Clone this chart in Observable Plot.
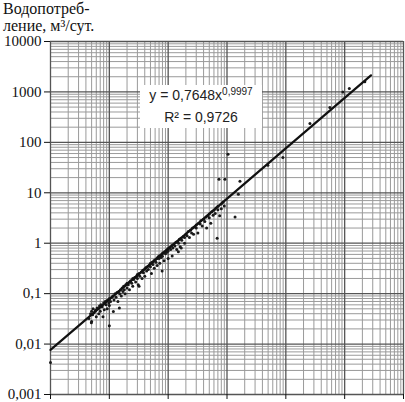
<!DOCTYPE html>
<html>
<head>
<meta charset="utf-8">
<script src="https://cdn.jsdelivr.net/npm/d3@7"></script>
<script src="https://cdn.jsdelivr.net/npm/@observablehq/plot@0.6"></script>
<style>
  body { margin: 0; background: white; }
  #wrap { position: relative; width: 405px; height: 402px; overflow: hidden; }
  #title { position: absolute; left: 3px; top: 0; font-family: "Liberation Serif", serif; font-size: 16px; line-height: 17px; color: #111; }
  #eq { position: absolute; left: 140px; top: 85px; width: 122px; height: 43px; background: white; text-align: center;
        font-family: "Liberation Sans", sans-serif; font-size: 14px; line-height: 20px; color: #222; }
  #eq .sup { position: relative; top: -5px; font-size: 10px; }
</style>
</head>
<body>
<div id="wrap">
  <div id="chart"></div>
  <div id="title">Водопотреб-<br>ление, м³/сут.</div>
  <div id="eq">y = 0,7648x<span class="sup">0,9997</span><br>R² = 0,9726</div>
</div>
<script>
const xValues = [0.045,0.048,0.05,0.05,0.0495,0.052,0.053,0.055,0.058,0.06,
  0.062,0.065,0.066,0.068,0.07,0.072,0.075,0.078,0.08,0.082,
  0.085,0.088,0.09,0.092,0.095,0.098,0.1,0.1,0.1,0.105,
  0.11,0.148,0.115,0.117,0.12,0.125,0.13,0.135,0.14,0.145,
  0.15,0.155,0.16,0.165,0.17,0.175,0.18,0.185,0.19,0.2,
  0.2,0.21,0.22,0.22,0.23,0.24,0.25,0.25,0.26,0.27,
  0.28,0.29,0.3,0.3,0.31,0.32,0.32,0.33,0.35,0.36,
  0.37,0.38,0.4,0.4,0.42,0.43,0.45,0.46,0.48,0.5,
  0.5,0.52,0.53,0.55,0.57,0.58,0.6,0.62,0.64,0.65,
  0.67,0.7,0.7,0.72,0.74,0.76,0.78,0.79,0.8,0.82,
  0.85,0.87,0.9,0.92,0.95,0.98,1.0,1.0,1.05,1.1,
  1.15,1.17,1.2,1.25,1.3,1.35,1.4,1.45,1.49,1.5,
  1.55,1.6,1.65,1.67,1.7,1.8,1.9,1.9,2.0,2.1,
  2.2,2.3,2.4,2.5,2.6,2.7,2.8,3.0,3.0,3.2,
  3.3,3.5,3.6,3.8,4.0,4.2,4.4,4.5,4.7,5.0,
  5.0,5.3,5.5,5.8,6.0,6.3,6.5,6.8,7.0,7.0,
  7.3,7.5,8.0,8.0,8.5,9.0,9.2,10.4,13.7,15.6,
  16.6,49.5,89,257,560,930,1200,2200,0.01];
const yValues = [0.032,0.04,0.028,0.045,0.0265,0.038,0.05,0.042,0.047,0.035,
  0.052,0.05,0.04,0.057,0.045,0.06,0.055,0.035,0.065,0.048,
  0.07,0.06,0.072,0.05,0.075,0.065,0.08,0.058,0.023,0.07,
  0.085,0.052,0.09,0.044,0.075,0.1,0.085,0.105,0.07,0.11,
  0.1,0.12,0.09,0.13,0.11,0.14,0.12,0.1,0.15,0.13,
  0.16,0.15,0.17,0.12,0.18,0.16,0.2,0.14,0.19,0.21,
  0.17,0.22,0.2,0.24,0.15,0.25,0.14,0.22,0.27,0.2,
  0.29,0.26,0.31,0.22,0.33,0.28,0.35,0.3,0.37,0.34,
  0.4,0.25,0.42,0.38,0.45,0.32,0.47,0.42,0.5,0.36,
  0.53,0.5,0.56,0.4,0.58,0.52,0.62,0.28,0.55,0.65,
  0.45,0.68,0.62,0.72,0.66,0.78,0.7,0.5,0.82,0.75,
  0.9,0.56,0.8,0.97,0.88,1.05,0.75,1.1,0.68,1.0,
  1.2,0.85,1.25,0.8,1.15,1.35,1.3,1.0,1.5,1.4,
  1.7,1.3,1.8,1.6,2.0,1.5,2.1,2.0,2.3,1.6,
  2.5,2.4,2.8,2.2,3.0,2.7,3.3,2.0,3.5,3.2,
  3.8,2.5,4.2,3.6,4.5,3.9,5.0,1.25,4.6,5.4,
  18.6,3.5,6.0,4.8,6.5,5.5,18.5,58,3.3,9.4,
  17,35,50,237,490,1000,1170,1590,0.0043];

const fitA = 0.7648, fitB = 0.9997;
const fitRange = [0.01, 2800];

const yTicks = [0.001,0.01,0.1,1,10,100,1000,10000];
const yTickLabels = ["0,001","0,01","0,1","1","10","100","1000","10000"];
const xTicks = [0.01,0.1,1,10,100,1000,10000];

const points = xValues.map((x, i) => ({x, y: yValues[i]}));
const fitLine = fitRange.map(x => ({x, y: fitA * Math.pow(x, fitB)}));

function minorOf(decades) {
  const out = [];
  for (const d of decades.slice(0, -1)) for (let k = 2; k <= 9; k++) out.push(d * k);
  return out;
}
const xMinor = minorOf(xTicks), yMinor = minorOf(yTicks);

const chart = Plot.plot({
  width: 405, height: 402,
  marginLeft: 50, marginRight: 2, marginTop: 41, marginBottom: 8,
  style: {fontFamily: "Liberation Serif, serif", fontSize: "15px", color: "#111", background: "white", overflow: "visible"},
  x: {type: "log", domain: [0.01, 10000]},
  y: {type: "log", domain: [0.001, 10000]},
  marks: [
    Plot.ruleX(xMinor, {stroke: "#9a9a9a", strokeWidth: 1}),
    Plot.ruleY(yMinor, {stroke: "#9a9a9a", strokeWidth: 1}),
    Plot.ruleX(xTicks, {stroke: "#555", strokeWidth: 1.3}),
    Plot.ruleY(yTicks, {stroke: "#555", strokeWidth: 1.3}),
    Plot.axisY({ticks: yTicks, tickFormat: d => yTickLabels[yTicks.findIndex(t => Math.abs(t - d) < t * 1e-6)], tickSize: 6, tickPadding: 3, label: null}),
    Plot.axisX({ticks: xTicks, tickFormat: () => "", tickSize: 5, label: null}),
    Plot.dot(points, {x: "x", y: "y", r: 1.5, fill: "#1a1a1a", stroke: "none"}),
    Plot.line(fitLine, {x: "x", y: "y", stroke: "#111", strokeWidth: 2.2})
  ]
});
document.getElementById("chart").appendChild(chart);
</script>
</body>
</html>
